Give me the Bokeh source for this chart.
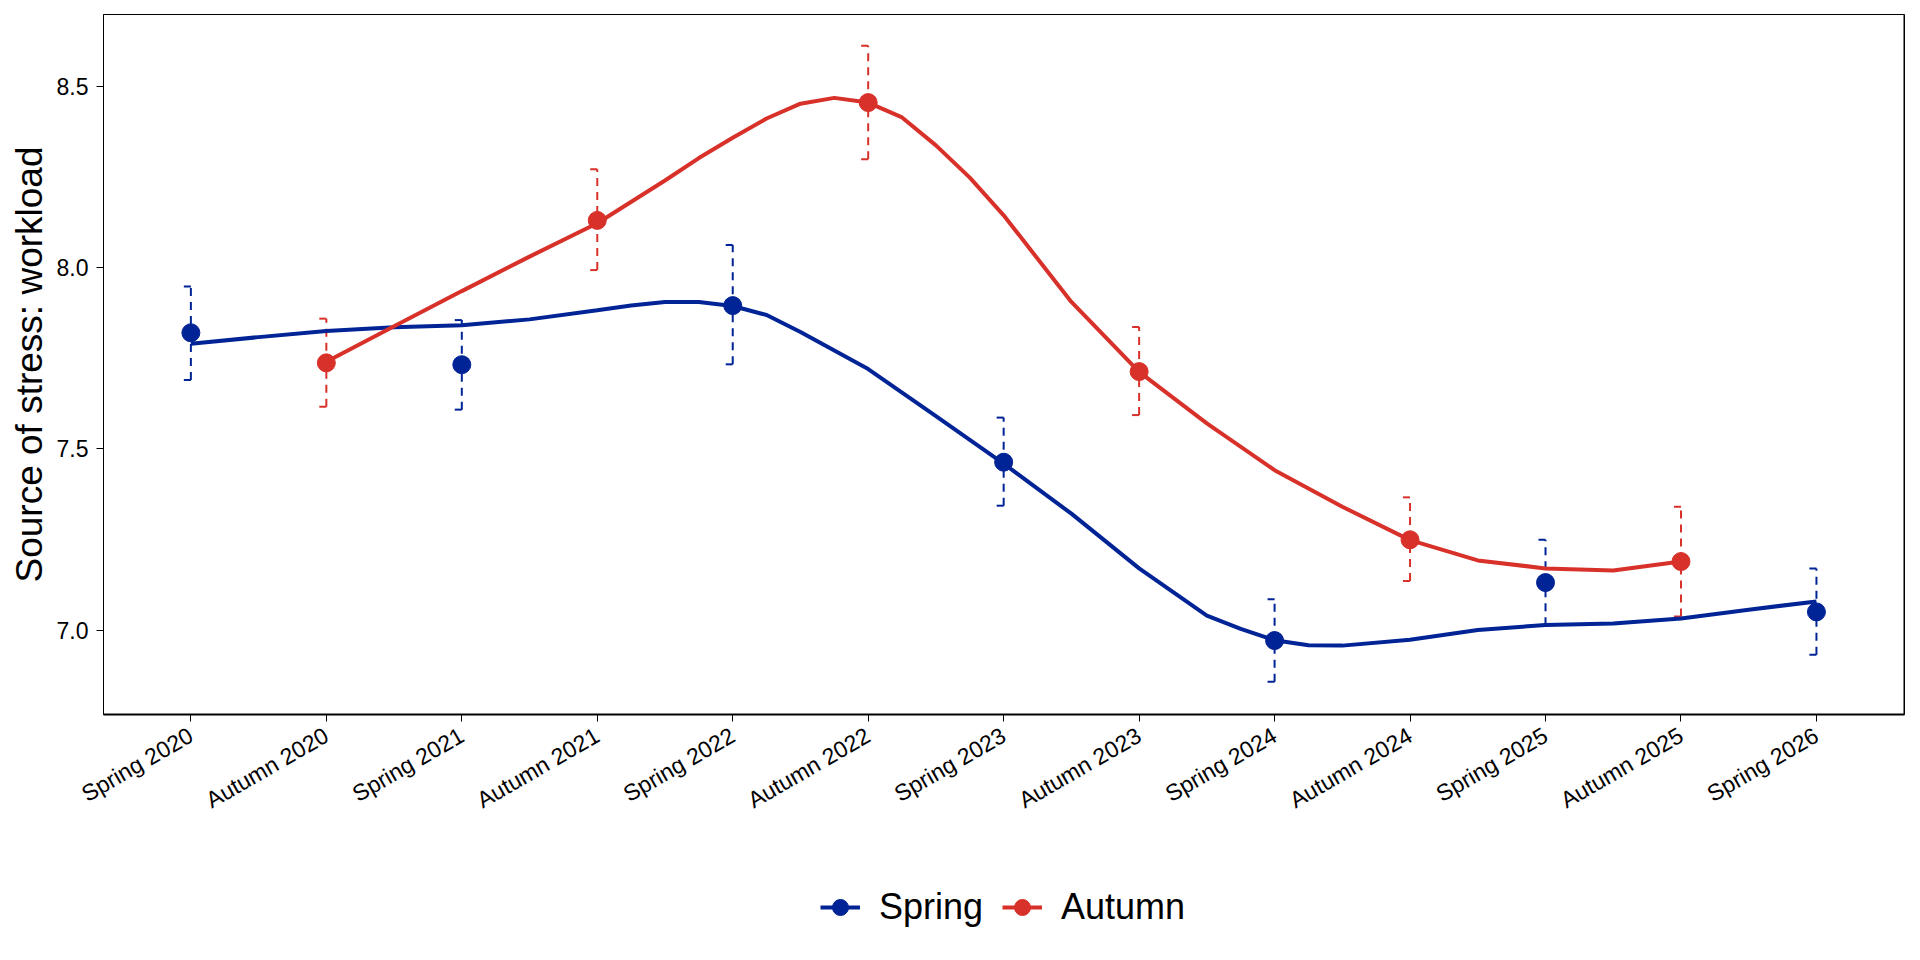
import math
import numpy as np
from bokeh.plotting import figure
from bokeh.layouts import column
from bokeh.models import (ColumnDataSource, FixedTicker, Range1d, Legend, LegendItem, Span)
from bokeh.embed import file_html
from bokeh.resources import INLINE

# ---------------- data ----------------
waves = ["Spring 2020", "Autumn 2020", "Spring 2021", "Autumn 2021", "Spring 2022",
         "Autumn 2022", "Spring 2023", "Autumn 2023", "Spring 2024", "Autumn 2024",
         "Spring 2025", "Autumn 2025", "Spring 2026"]

spring_pos = [0, 2, 4, 6, 8, 10, 12]
spring_mean = [7.820, 7.732, 7.895, 7.463, 6.971, 7.131, 7.050]
spring_lower = [7.690, 7.608, 7.733, 7.343, 6.857, 7.013, 6.932]
spring_upper = [7.948, 7.855, 8.062, 7.586, 7.085, 7.249, 7.170]

autumn_pos = [1, 3, 5, 7, 9, 11]
autumn_mean = [7.737, 8.130, 8.455, 7.713, 7.249, 7.189]
autumn_lower = [7.616, 7.993, 8.299, 7.593, 7.135, 7.037]
autumn_upper = [7.859, 8.271, 8.612, 7.836, 7.366, 7.340]

# smoothed trend lines
spring_curve_x = [0, 0.5, 1, 1.5, 2, 2.5, 3, 3.25, 3.5, 3.75, 4, 4.25, 4.5, 5, 5.5, 6,
                  6.5, 7, 7.5, 7.75, 8, 8.25, 8.5, 9, 9.5, 10, 10.5, 11, 11.5, 12]
spring_curve_y = [7.790, 7.808, 7.825, 7.835, 7.841, 7.857, 7.882, 7.895, 7.905, 7.905,
                  7.894, 7.869, 7.822, 7.720, 7.590, 7.459, 7.321, 7.170, 7.040, 7.003,
                  6.972, 6.958, 6.957, 6.973, 7.000, 7.014, 7.018, 7.032, 7.056, 7.079]

autumn_curve_x = [1, 1.5, 2, 2.5, 3, 3.5, 3.75, 4, 4.25, 4.5, 4.75, 5, 5.25, 5.5, 5.75,
                  6, 6.5, 7, 7.5, 8, 8.5, 9, 9.5, 10, 10.5, 11]
autumn_curve_y = [7.740, 7.838, 7.935, 8.030, 8.122, 8.240, 8.302, 8.358, 8.411, 8.452,
                  8.468, 8.455, 8.414, 8.337, 8.248, 8.144, 7.905, 7.712, 7.570, 7.441,
                  7.340, 7.248, 7.192, 7.170, 7.164, 7.189]

y_ticks = [7.0, 7.5, 8.0, 8.5]
series_names = ["Spring", "Autumn"]

BLUE = "#002395"
RED = "#D8312A"
FONT = "Liberation Sans"
CAP = 0.052  # error bar cap length (x units)

# ---------------- main figure ----------------
p = figure(width=1920, height=860, output_backend="svg", toolbar_location=None,
           x_range=Range1d(-0.645, 12.65), y_range=Range1d(6.767, 8.698),
           min_border_left=103, min_border_right=16, min_border_top=14,
           min_border_bottom=146)
p.background_fill_color = "white"
p.border_fill_color = "white"
p.outline_line_color = "black"
p.outline_line_width = 1
p.grid.visible = False


def errbars(pos, lo, hi, color):
    src = ColumnDataSource(dict(x=pos, lo=lo, hi=hi,
                                xc=[v - CAP for v in pos]))
    p.segment(x0="x", y0="lo", x1="x", y1="hi", source=src, line_color=color,
              line_width=2, line_dash="8 6")
    p.segment(x0="xc", y0="hi", x1="x", y1="hi", source=src, line_color=color, line_width=2)
    p.segment(x0="xc", y0="lo", x1="x", y1="lo", source=src, line_color=color, line_width=2)


errbars(spring_pos, spring_lower, spring_upper, BLUE)
errbars(autumn_pos, autumn_lower, autumn_upper, RED)

p.line(spring_curve_x, spring_curve_y, line_color=BLUE, line_width=4)
p.line(autumn_curve_x, autumn_curve_y, line_color=RED, line_width=4)
p.scatter(spring_pos, spring_mean, marker="circle", size=18,
          fill_color=BLUE, line_color=BLUE)
p.scatter(autumn_pos, autumn_mean, marker="circle", size=18,
          fill_color=RED, line_color=RED)

p.add_layout(Span(location=p.x_range.end, dimension="height", line_color="black",
                  line_width=2))

xa = p.xaxis[0]
xa.ticker = FixedTicker(ticks=list(range(len(waves))))
xa.major_label_overrides = {i: w for i, w in enumerate(waves)}
xa.major_label_orientation = math.pi / 6
xa.major_label_text_font = FONT
xa.major_label_text_font_size = "23px"
xa.major_label_text_color = "black"
xa.major_label_standoff = 12
xa.axis_line_width = 2
xa.major_tick_in = 0
xa.major_tick_out = 7
xa.minor_tick_line_color = None

ya = p.yaxis[0]
ya.ticker = FixedTicker(ticks=y_ticks)
ya.major_label_overrides = {v: f"{v:.1f}" for v in y_ticks}
ya.major_label_text_font = FONT
ya.major_label_text_font_size = "23px"
ya.major_label_text_color = "black"
ya.major_label_standoff = 8
ya.axis_line_width = 1
ya.major_tick_in = 0
ya.major_tick_out = 7
ya.minor_tick_line_color = None
ya.axis_label = "Source of stress: workload"
ya.axis_label_text_font = FONT
ya.axis_label_text_font_size = "37px"
ya.axis_label_text_font_style = "normal"
ya.axis_label_text_color = "black"
ya.axis_label_standoff = 4

# ---------------- legend strip ----------------
q = figure(width=1920, height=100, output_backend="svg", toolbar_location=None,
           x_axis_location=None, y_axis_location=None, min_border=0)
q.outline_line_color = None
q.grid.visible = False
q.background_fill_color = "white"
q.border_fill_color = "white"
items = []
for name, col in zip(series_names, [BLUE, RED]):
    nan = np.array([np.nan])
    ln = q.line(nan, nan, line_color=col, line_width=4)
    pt = q.scatter(nan, nan, marker="circle", size=18, fill_color=col, line_color=col)
    items.append(LegendItem(label=name, renderers=[ln, pt]))

legend = Legend(items=items, orientation="horizontal", location=(717, 31),
                label_text_font=FONT, label_text_font_size="36px",
                label_text_color="black",
                glyph_width=40, glyph_height=44, label_standoff=19, spacing=19,
                padding=0, margin=0, border_line_alpha=0, background_fill_alpha=0)
q.add_layout(legend)

layout = column(p, q, spacing=0)
open("out.html", "w").write(file_html(layout, INLINE))
